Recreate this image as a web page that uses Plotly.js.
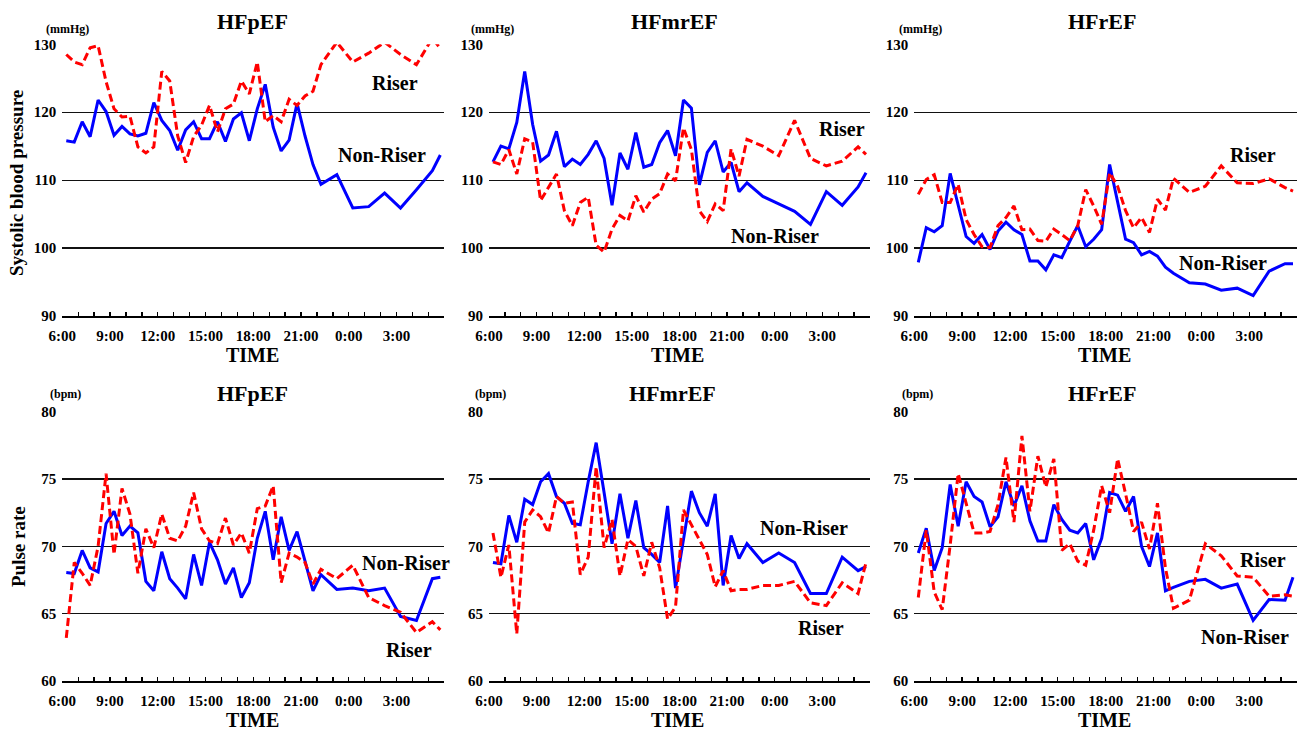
<!DOCTYPE html>
<html>
<head>
<meta charset="utf-8">
<script src="https://cdn.plot.ly/plotly-3.0.1.min.js"></script>
<style>html,body{margin:0;padding:0;background:#fff;}#chart{width:1297px;height:746px;}</style>
</head>
<body>
<div id="chart"></div>
<script>
// ---- data ----
const measureTimes = ['6:15','6:45','7:15','7:45','8:15','8:45','9:15','9:45','10:15','10:45',
  '11:15','11:45','12:15','12:45','13:15','13:45','14:15','14:45','15:15','15:45',
  '16:15','16:45','17:15','17:45','18:15','18:45','19:15','19:45','20:15','20:45',
  '21:15','21:45','22:15','23:15','0:15','1:15','2:15','3:15','4:15','5:15','5:45'];
const timeLabels = ['6:00','9:00','12:00','15:00','18:00','21:00','0:00','3:00'];
const groups = ['HFpEF','HFmrEF','HFrEF'];
const sbpTicks = [90,100,110,120,130];
const prTicks = [60,65,70,75,80];

// Systolic blood pressure (mmHg)
const sbpHFpEF_nonRiser = [115.8,115.6,118.6,116.4,121.8,120.1,116.6,117.9,116.8,116.5,116.9,121.4,118.8,117.3,114.4,117.4,118.6,116.1,116.1,118.6,115.7,119.0,119.9,115.8,120.5,124.1,117.8,114.3,115.9,121.3,116.5,112.3,109.4,110.8,105.9,106.1,108.1,105.9,108.6,111.4,113.7];
const sbpHFpEF_riser = [128.5,127.4,127.0,129.5,129.8,124.5,120.5,119.3,119.4,114.9,114.0,114.9,126.0,124.6,116.5,112.6,116.4,118.1,121.0,117.1,120.5,121.2,124.6,122.7,127.4,118.6,119.5,118.6,121.9,121.0,122.4,123.1,127.0,130.3,127.4,128.7,130.3,128.5,127.0,130.9,129.4];
const sbpHFmrEF_nonRiser = [112.7,115.0,114.6,118.5,126.0,118.2,112.8,113.7,117.2,112.0,113.1,112.3,113.8,115.8,113.2,106.3,114.0,111.6,117.0,111.9,112.3,115.5,117.3,113.6,121.8,120.6,109.3,114.1,115.8,111.2,112.6,108.3,109.6,107.6,106.5,105.4,103.5,108.3,106.3,109.0,111.1];
const sbpHFmrEF_riser = [112.7,112.3,114.5,110.9,116.1,115.6,107.0,108.9,110.9,105.5,103.3,106.7,107.5,100.4,99.4,102.8,104.8,104.0,107.7,105.3,107.2,108.0,110.9,109.9,117.7,114.5,105.5,103.9,106.5,105.5,114.6,110.6,116.0,115.0,113.6,118.8,113.2,112.1,112.8,114.9,113.8];
const sbpHFrEF_nonRiser = [97.9,103.0,102.4,103.3,111.0,106.5,101.7,100.7,102.0,99.8,102.5,103.8,102.7,102.0,98.1,98.1,96.8,99.0,98.6,101.0,103.3,100.2,101.3,102.7,112.3,106.8,101.3,100.8,99.0,99.5,98.8,97.2,96.3,94.9,94.7,93.8,94.1,93.0,96.6,97.7,97.7];
const sbpHFrEF_riser = [107.9,110.1,110.8,106.7,106.7,109.4,104.2,102.0,100.2,100.1,103.3,104.5,106.2,102.7,102.8,101.1,101.0,102.8,102.0,101.1,103.3,108.6,106.2,103.5,111.1,109.1,105.5,103.0,104.5,102.3,107.2,105.6,110.3,108.2,109.1,112.1,109.6,109.5,110.2,108.9,108.4];

// Pulse rate (bpm)
const prHFpEF_nonRiser = [68.05,67.98,69.7,68.4,68.1,71.7,72.6,70.8,71.5,71.0,67.4,66.7,69.6,67.6,66.9,66.1,69.4,67.1,70.3,69.0,67.2,68.4,66.2,67.3,70.6,72.6,69.0,72.2,69.7,71.1,68.9,66.7,67.9,66.8,66.9,66.7,66.9,64.8,64.5,67.6,67.7];
const prHFpEF_riser = [63.2,68.8,68.0,67.1,70.0,75.4,69.4,74.3,72.4,68.0,71.3,69.9,72.4,70.6,70.4,71.5,74.0,71.3,70.4,70.2,72.1,70.1,71.0,69.5,72.8,73.0,74.5,67.3,69.5,69.2,68.8,67.2,68.3,67.6,68.6,66.2,65.6,65.1,63.6,64.4,63.8];
const prHFmrEF_nonRiser = [68.8,68.7,72.3,70.3,73.5,73.1,74.8,75.4,73.7,73.2,71.7,71.6,74.8,77.7,74.0,70.2,73.9,70.6,73.4,69.9,69.4,68.8,73.0,66.9,70.5,74.1,72.5,71.5,73.9,67.1,70.8,69.1,70.2,68.8,69.5,68.8,66.5,66.5,69.2,68.2,68.5];
const prHFmrEF_riser = [71.0,67.7,70.1,63.5,71.8,72.7,72.2,71.0,73.7,73.2,73.3,67.9,69.2,75.9,69.9,72.0,67.8,70.5,70.0,67.8,70.3,68.4,64.6,65.5,72.7,71.6,70.4,69.4,67.0,68.2,66.7,66.8,66.8,67.1,67.1,67.4,65.8,65.6,67.3,66.5,68.8];
const prHFrEF_nonRiser = [69.5,71.35,68.2,69.9,74.6,71.5,74.8,73.7,73.3,71.45,72.2,74.8,73.0,74.5,71.9,70.4,70.4,73.1,72.0,71.2,71.0,71.7,69.0,70.6,74.0,73.8,72.6,73.7,70.0,68.5,71.0,66.7,66.95,67.4,67.55,66.9,67.2,64.5,66.05,66.0,67.7];
const prHFrEF_riser = [66.2,71.2,66.6,65.3,70.1,75.4,73.2,71.0,71.0,71.1,73.1,76.6,71.8,78.2,72.6,76.7,74.4,76.5,69.7,70.2,68.9,68.6,71.2,74.5,72.5,76.5,73.9,71.1,71.8,69.8,73.2,68.4,65.4,66.0,70.2,69.3,67.8,67.7,66.3,66.4,66.3];

// ---- build ----
const W = 1297, H = 746;
const FONT = 'Liberation Serif, Times New Roman, serif';

// hours elapsed since 6:00
function hoursSince6(t){
  const [h,m] = t.split(':').map(Number);
  let v = h + m/60 - 6;
  if (v < 0) v += 24;
  return v;
}
const xs = measureTimes.map(hoursSince6);

// tick positions every hour; labelled every 3 hours
const tickVals = [], tickText = [];
for (let i = 0; i <= 24; i++){
  tickVals.push(i);
  tickText.push(i % 3 === 0 && i/3 < timeLabels.length ? timeLabels[i/3] : '');
}

const colPx = [[62.3,444.3],[489,870],[914.3,1297]];
const rowPx = [[44.3,316],[411.7,681]];

const panels = [
  {row:0,col:0,non:sbpHFpEF_nonRiser,ris:sbpHFpEF_riser},
  {row:0,col:1,non:sbpHFmrEF_nonRiser,ris:sbpHFmrEF_riser},
  {row:0,col:2,non:sbpHFrEF_nonRiser,ris:sbpHFrEF_riser},
  {row:1,col:0,non:prHFpEF_nonRiser,ris:prHFpEF_riser},
  {row:1,col:1,non:prHFmrEF_nonRiser,ris:prHFmrEF_riser},
  {row:1,col:2,non:prHFrEF_nonRiser,ris:prHFrEF_riser}
];

const tickFont = {family:FONT, size:15, color:'#000', weight:700};
const traces = [];
const layout = {
  width:W, height:H, margin:{l:0,r:0,t:0,b:0},
  paper_bgcolor:'#fff', plot_bgcolor:'#fff', showlegend:false,
  annotations:[]
};

panels.forEach((p,i) => {
  const n = i===0 ? '' : String(i+1);
  const xd = [colPx[p.col][0]/W, Math.min(1, colPx[p.col][1]/W)];
  const yd = [1 - rowPx[p.row][1]/H, 1 - rowPx[p.row][0]/H];
  const ticks = p.row === 0 ? sbpTicks : prTicks;
  layout['xaxis'+n] = {
    domain:xd, anchor:'y'+n, range:[0,24], showgrid:false, zeroline:false,
    showline:true, linecolor:'#000', linewidth:1.5,
    ticks:'inside', ticklen:4, tickwidth:1.3, tickcolor:'#000',
    tickmode:'array', tickvals:tickVals, ticktext:tickText,
    tickfont:tickFont, ticklabelstandoff:5, fixedrange:true
  };
  layout['yaxis'+n] = {
    domain:yd, anchor:'x'+n, range:[ticks[0], ticks[ticks.length-1]],
    tickmode:'array', tickvals:ticks, showgrid:true, gridcolor:'#111', gridwidth:1.3,
    zeroline:false, showline:false, ticks:'', tickfont:tickFont, ticklabelstandoff:5,
    fixedrange:true
  };
  traces.push({x:xs, y:p.non, xaxis:'x'+n, yaxis:'y'+n, mode:'lines', name:'Non-Riser',
    line:{color:'#0000ff', width:3}, hoverinfo:'skip'});
  traces.push({x:xs, y:p.ris, xaxis:'x'+n, yaxis:'y'+n, mode:'lines', name:'Riser',
    line:{color:'#ff0000', width:3, dash:'8px,4px'}, hoverinfo:'skip'});
});

function ann(text, x, y, size, extra){
  layout.annotations.push(Object.assign({
    text:text, xref:'paper', yref:'paper', x:x/W, y:1-y/H,
    xanchor:'center', yanchor:'middle', showarrow:false,
    font:{family:FONT, size:size, color:'#000', weight:700}
  }, extra||{}));
}

// panel titles
const titlePos = [[252,21],[674,21],[1102,21],[252,393],[673,393],[1102,393]];
titlePos.forEach((t,i) => ann(groups[i%3], t[0], t[1], 22));
// units
[[67,29],[492,29],[920,29]].forEach(t => ann('(mmHg)', t[0], t[1], 12));
[[65,394],[490,394],[917,394]].forEach(t => ann('(bpm)', t[0], t[1], 12));
// x titles
[[252,355],[677,355],[1104,355],[252,720],[677,720],[1104,720]].forEach(t => ann('TIME', t[0], t[1], 20));
// y titles
ann('Systolic blood pressure', 16, 183, 19, {textangle:-90});
ann('Pulse rate', 18, 547, 19, {textangle:-90});
// series labels
ann('Riser', 395, 83, 20);
ann('Non-Riser', 382, 155, 20);
ann('Riser', 842, 129, 20);
ann('Non-Riser', 775, 236, 20);
ann('Riser', 1253, 155, 20);
ann('Non-Riser', 1223, 263, 20);
ann('Non-Riser', 406, 563, 20);
ann('Riser', 409, 650, 20);
ann('Non-Riser', 804, 528, 20);
ann('Riser', 821, 628, 20);
ann('Riser', 1263, 560, 20);
ann('Non-Riser', 1245, 637, 20);

Plotly.newPlot('chart', traces, layout, {staticPlot:true, displayModeBar:false});
</script>
</body>
</html>
